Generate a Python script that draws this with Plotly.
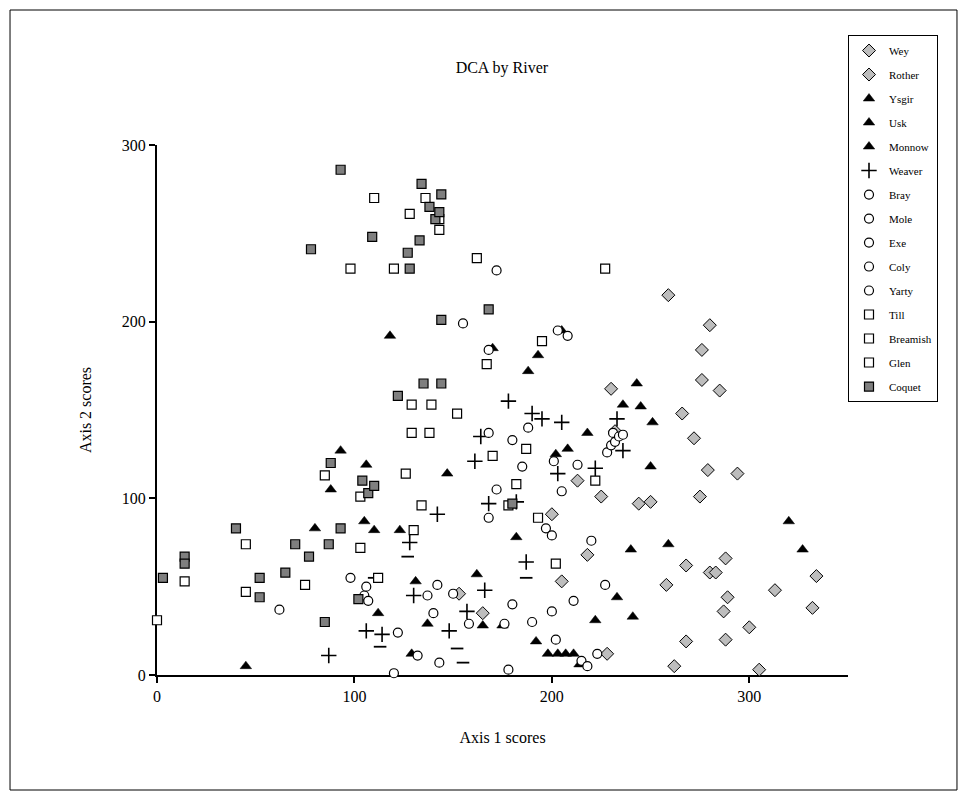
import plotly.graph_objects as go

# ---- data (Axis 1 score, Axis 2 score) ----
wey_x = [153, 165, 200, 205, 213, 218, 225, 228, 230, 232, 244, 250, 258, 259, 262, 266, 268]
wey_y = [46, 35, 91, 53, 110, 68, 101, 12, 162, 138, 97, 98, 51, 215, 5, 148, 19]
rother_x = [268, 272, 275, 276, 276, 279, 280, 280, 283, 285, 287, 288, 288, 289, 294, 300, 305, 313, 332, 334]
rother_y = [62, 134, 101, 184, 167, 116, 198, 58, 58, 161, 36, 66, 20, 44, 114, 27, 3, 48, 38, 56]

ysgir_x = [45, 80, 88, 93, 105, 106, 110, 112, 118, 123, 129, 131, 137, 147]
ysgir_y = [5, 83, 105, 127, 87, 119, 82, 35, 192, 82, 12, 53, 29, 114]
usk_x = [162, 165, 170, 175, 182, 188, 192, 193, 198, 203, 207, 211, 214, 205]
usk_y = [57, 28, 185, 28, 78, 172, 19, 181, 12, 12, 12, 12, 6, 195]
monnow_x = [202, 208, 218, 222, 233, 240, 241, 243, 245, 250, 251, 259, 320, 327, 236]
monnow_y = [125, 128, 137, 31, 44, 71, 33, 165, 152, 118, 143, 74, 87, 71, 153]

weaver_x = [87, 106, 114, 128, 130, 142, 148, 157, 161, 164, 168, 178, 182, 187, 190, 195, 203, 205, 222, 233, 236, 166]
weaver_y = [11, 25, 23, 75, 45, 91, 25, 36, 121, 135, 97, 155, 98, 64, 148, 145, 114, 143, 117, 145, 127, 48]
weaver_dash_x = [110, 127, 152, 155, 187, 113]
weaver_dash_y = [55, 67, 15, 7, 55, 16]

bray_x = [62, 98, 105, 106, 107, 120, 122, 132, 137, 140, 142]
bray_y = [37, 55, 45, 50, 42, 1, 24, 11, 45, 35, 51]
mole_x = [143, 150, 158, 168, 168, 168, 172, 155, 172, 176, 178]
mole_y = [7, 46, 29, 89, 137, 184, 105, 199, 229, 29, 3]
exe_x = [180, 180, 185, 188, 197, 200, 200, 202, 201]
exe_y = [40, 133, 118, 140, 83, 79, 36, 20, 121]
coly_x = [203, 205, 208, 211, 213, 215, 218, 220, 223]
coly_y = [195, 104, 192, 42, 119, 8, 5, 76, 12]
yarty_x = [227, 228, 230, 231, 232, 234, 236, 190]
yarty_y = [51, 126, 130, 137, 132, 135, 136, 30]

till_x = [0, 14, 45, 45, 75, 85, 98, 103, 103, 110, 112, 120]
till_y = [31, 53, 74, 47, 51, 113, 230, 101, 72, 270, 55, 230]
breamish_x = [126, 128, 129, 129, 130, 134, 136, 138, 139, 143, 143, 152]
breamish_y = [114, 261, 153, 137, 82, 96, 270, 137, 153, 258, 252, 148]
glen_x = [162, 167, 170, 178, 182, 195, 187, 193, 202, 222, 227]
glen_y = [236, 176, 124, 96, 108, 189, 128, 89, 63, 110, 230]

coquet_x = [3, 14, 14, 40, 52, 52, 65, 70, 77, 85, 87, 88, 93, 93, 78, 102, 104, 107, 110, 109,
            122, 127, 128, 133, 134, 135, 138, 141, 143, 144, 144, 144, 168, 180]
coquet_y = [55, 67, 63, 83, 55, 44, 58, 74, 67, 30, 74, 120, 83, 286, 241, 43, 110, 103, 107, 248,
            158, 239, 230, 246, 278, 165, 265, 258, 262, 272, 201, 165, 207, 97]

x_ticks = [0, 100, 200, 300]
y_ticks = [0, 100, 200, 300]

FONT = "Liberation Serif"

diamond = dict(symbol="diamond", size=10, color="#BDBDBD", line=dict(color="black", width=1))
triangle = dict(symbol="triangle-up", size=10, color="black", line=dict(color="black", width=0.5))
plus = dict(symbol="cross-thin", size=11, color="black", line=dict(color="black", width=1.6))
dash = dict(symbol="line-ew", size=9, color="black", line=dict(color="black", width=1.8))
circle = dict(symbol="circle", size=9, color="white", line=dict(color="black", width=1.2))
square = dict(symbol="square", size=9, color="white", line=dict(color="black", width=1.2))
gsquare = dict(symbol="square", size=9, color="#7F7F7F", line=dict(color="black", width=1.2))

series = [
    ("Wey", wey_x, wey_y, diamond),
    ("Rother", rother_x, rother_y, diamond),
    ("Ysgir", ysgir_x, ysgir_y, triangle),
    ("Usk", usk_x, usk_y, triangle),
    ("Monnow", monnow_x, monnow_y, triangle),
    ("Weaver", weaver_x, weaver_y, plus),
    ("Bray", bray_x, bray_y, circle),
    ("Mole", mole_x, mole_y, circle),
    ("Exe", exe_x, exe_y, circle),
    ("Coly", coly_x, coly_y, circle),
    ("Yarty", yarty_x, yarty_y, circle),
    ("Till", till_x, till_y, square),
    ("Breamish", breamish_x, breamish_y, square),
    ("Glen", glen_x, glen_y, square),
    ("Coquet", coquet_x, coquet_y, gsquare),
]

fig = go.Figure()
for name, xs, ys, mk in series:
    fig.add_trace(go.Scatter(x=xs, y=ys, mode="markers", name=name, marker=mk,
                             cliponaxis=False, legendgroup=name))
    if name == "Weaver":
        fig.add_trace(go.Scatter(x=weaver_dash_x, y=weaver_dash_y, mode="markers", name="Weaver",
                                 marker=dash, cliponaxis=False, legendgroup="Weaver",
                                 showlegend=False))

axis_common = dict(showgrid=False, zeroline=False, showline=True, linecolor="black", linewidth=2,
                   ticks="outside", ticklen=6, tickwidth=2, tickcolor="black",
                   tickfont=dict(family=FONT, size=16, color="black"), layer="below traces")

fig.update_layout(
    width=967, height=798,
    margin=dict(l=157, r=119, t=145, b=123),
    paper_bgcolor="white", plot_bgcolor="white",
    font=dict(family=FONT, color="black"),
    title=dict(text="DCA by River", x=0.519, xanchor="center", y=0.916, yanchor="middle",
               font=dict(family=FONT, size=16, color="black")),
    xaxis=dict(range=[0, 350], tickvals=x_ticks, ticktext=[str(v) for v in x_ticks],
               title=dict(text="Axis 1 scores", font=dict(family=FONT, size=16), standoff=28),
               **axis_common),
    yaxis=dict(range=[0, 300], tickvals=y_ticks, ticktext=[str(v) for v in y_ticks],
               title=dict(text="Axis 2 scores", font=dict(family=FONT, size=16), standoff=26),
               **axis_common),
    legend=dict(x=1.0, xanchor="left", y=1.2075, yanchor="top", bordercolor="black", borderwidth=1,
                bgcolor="white", font=dict(family=FONT, size=11, color="black"),
                tracegroupgap=5, itemwidth=30),
    showlegend=True,
    shapes=[dict(type="rect", xref="paper", yref="paper", x0=-0.2127, x1=1.1577, y0=-0.217, y1=1.2547,
                 line=dict(color="black", width=1), fillcolor="rgba(0,0,0,0)", layer="below")],
)

fig.write_html("out.html")
